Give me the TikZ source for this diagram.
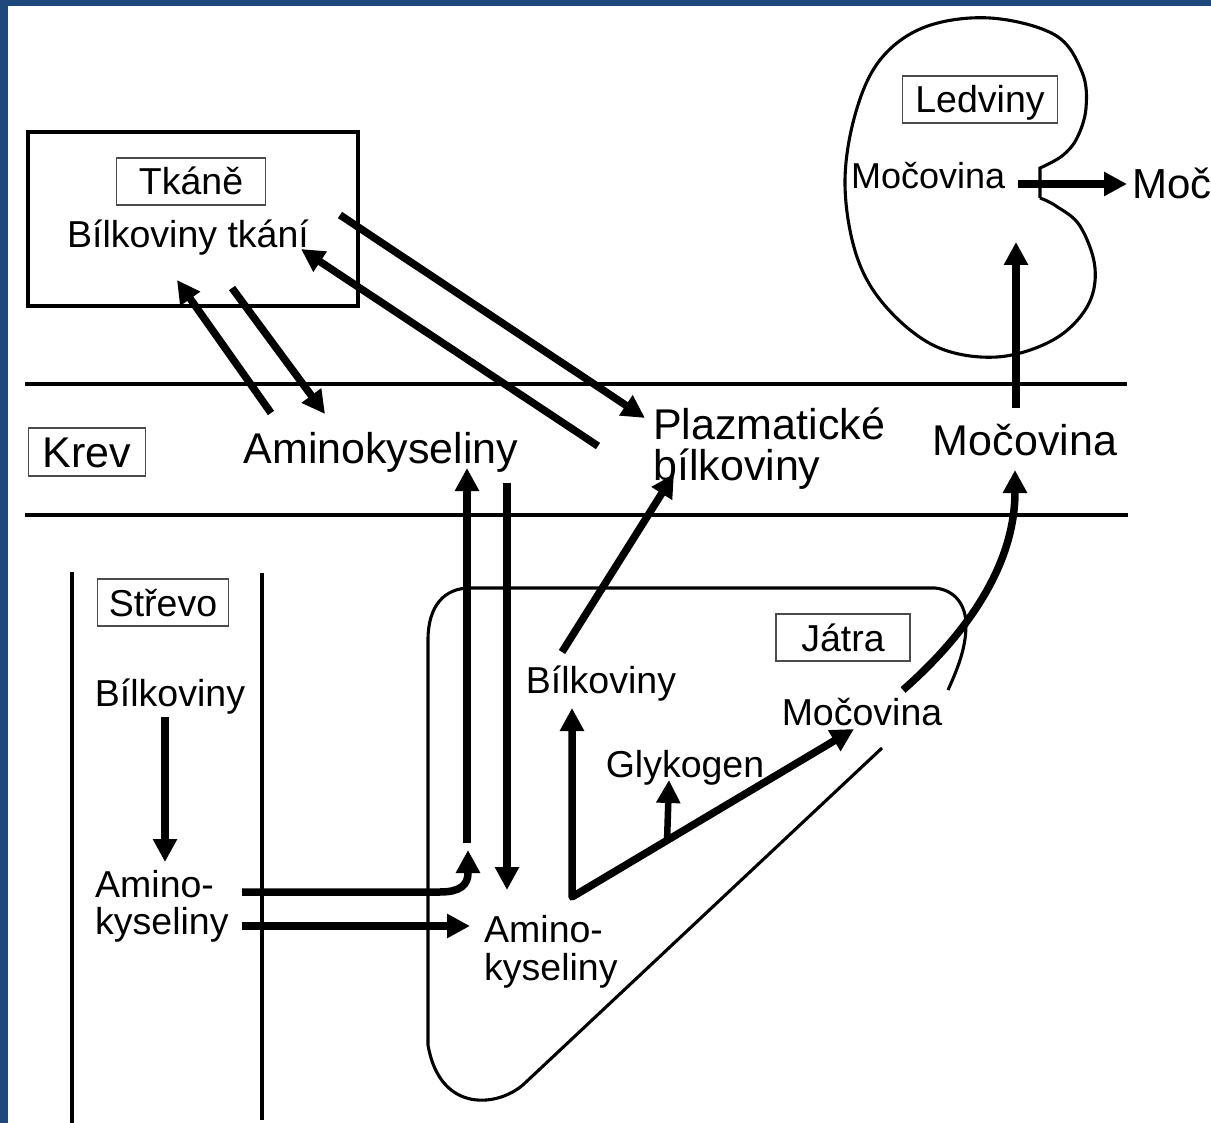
\documentclass[tikz,border=0pt]{standalone}
\usepackage{fontspec}
\setmainfont{Liberation Sans}
\usetikzlibrary{arrows.meta}
\definecolor{frameblue}{RGB}{31,73,125}
\begin{document}
\begin{tikzpicture}[x=1pt,y=1pt,
  flow/.style={line width=7.5pt,-{Triangle[length=23pt,width=23pt]}},
  outline/.style={line width=3.1pt},
  small/.style={font=\fontsize{37.5}{40}\selectfont,inner sep=0pt},
  big/.style={font=\fontsize{43}{48}\selectfont,inner sep=0pt},
  lbox/.style={draw=black!70,line width=1.9pt,font=\fontsize{37.5}{40}\selectfont,
    text height=27pt,text depth=0pt,inner ysep=10pt,inner xsep=0pt}]
\useasboundingbox (0,0) rectangle (1211,-1123);
\fill[white] (0,0) rectangle (1211,-1123);
\fill[frameblue] (0,0) rectangle (8,-1123);
\fill[frameblue] (0,0) rectangle (1211,-6);

% tissue box
\draw[outline] (28,-132) rectangle (358,-306);
\node[lbox,minimum width=149pt,anchor=base] (tkane) at (191,-195) {Tkáně};
\node[small,anchor=base] (bilt) at (188,-248) {Bílkoviny tkání};

% blood lines
\draw[outline] (25,-384) -- (1127,-384);
\draw[outline] (25,-515) -- (1128,-515);
\node[lbox,font=\fontsize{43}{48}\selectfont,text height=30pt,inner ysep=9pt,minimum width=117pt,anchor=base] (krev) at (87,-467) {Krev};
\node[big,anchor=base] (amk) at (381,-463) {Aminokyseliny};
\node[big,anchor=base west] (plaz1) at (653,-439) {Plazmatické};
\node[big,anchor=base west] (plaz2) at (653,-480) {bílkoviny};
\node[big,anchor=base] (mocK) at (1025,-455) {Močovina};

% kidney
\draw[outline] (1040,-198) -- (1040,-168) -- plot[smooth,tension=0.6] coordinates {
 (1040,-168) (1062,-156) (1077,-138) (1086,-108) (1082,-72) (1055,-35) (990,-18) (925,-27)
 (880,-60) (855,-115) (845,-185) (857,-257) (887,-308) (937,-347) (997,-357) (1053,-340)
 (1087,-307) (1095,-268) (1080,-226) (1056,-206) (1040,-198)};
\node[lbox,minimum width=155pt,anchor=base] (ledv) at (980,-113) {Ledviny};
\node[font=\fontsize{36}{40}\selectfont,inner sep=0pt,anchor=base west] (mocL) at (851,-189) {Močovina};
\node[font=\fontsize{42}{46}\selectfont,inner sep=0pt,anchor=base west] (moc) at (1132,-199) {Moč};

% intestine
\draw[outline] (72,-572) -- (72,-1123);
\draw[outline] (262,-573) -- (262,-1120);
\node[lbox,minimum width=131pt,anchor=base] (strevo) at (163,-616) {Střevo};
\node[small,anchor=base] (bilS) at (170,-706) {Bílkoviny};
\node[small,anchor=base west] (amS1) at (95,-897) {Amino-};
\node[small,anchor=base west] (amS2) at (95,-934) {kyseliny};

% liver
\draw[outline] (882,-748) -- (525,-1083) .. controls (500,-1107) and (440,-1115) .. (428,-1045)
  -- (428,-640) .. controls (428,-605) and (445,-588) .. (470,-588) -- (935,-588)
  .. controls (955,-590) and (966,-605) .. (966,-625) .. controls (966,-650) and (956,-672) .. (948,-690);
\node[lbox,minimum width=134pt,anchor=base] (jatra) at (843,-651) {Játra};
\node[small,anchor=base] (bilJ) at (601,-693) {Bílkoviny};
\node[small,anchor=base] (glyk) at (685,-777) {Glykogen};
\node[small,anchor=base] (mocJ) at (862,-725) {Močovina};
\node[small,anchor=base west] (amJ1) at (484,-942) {Amino-};
\node[small,anchor=base west] (amJ2) at (484,-980) {kyseliny};

% flows
\draw[flow] (271,-413) -- (177,-280);
\draw[flow] (232,-288) -- (325,-414);
\draw[flow] (340,-215) -- (645,-418);
\draw[flow] (598,-446) -- (301,-249);
\draw[flow] (467,-843) -- (467,-468);
\draw[flow] (507,-483) -- (507,-890);
\draw[flow] (242,-892) -- (440,-892) .. controls (460,-892) and (468,-885) .. (468,-873) -- (468,-850);
\draw[flow] (242,-926) -- (470,-926);
\draw[flow] (165,-717) -- (165,-862);
\draw[line width=7.5pt,line join=round,{Triangle[length=23pt,width=23pt]}-{Triangle[length=23pt,width=23pt]}]
  (572,-708) -- (572,-897) -- (854,-729);
\draw[flow,line width=6.5pt] (667,-842) -- (669,-780);
\draw[flow] (562,-652) -- (674,-474);
\draw[flow] (903,-690) .. controls (960,-640) and (1015,-570) .. (1015,-470);
\draw[flow] (1016,-408) -- (1016,-242);
\draw[flow] (1018,-184) -- (1127,-184);
\end{tikzpicture}
\end{document}
